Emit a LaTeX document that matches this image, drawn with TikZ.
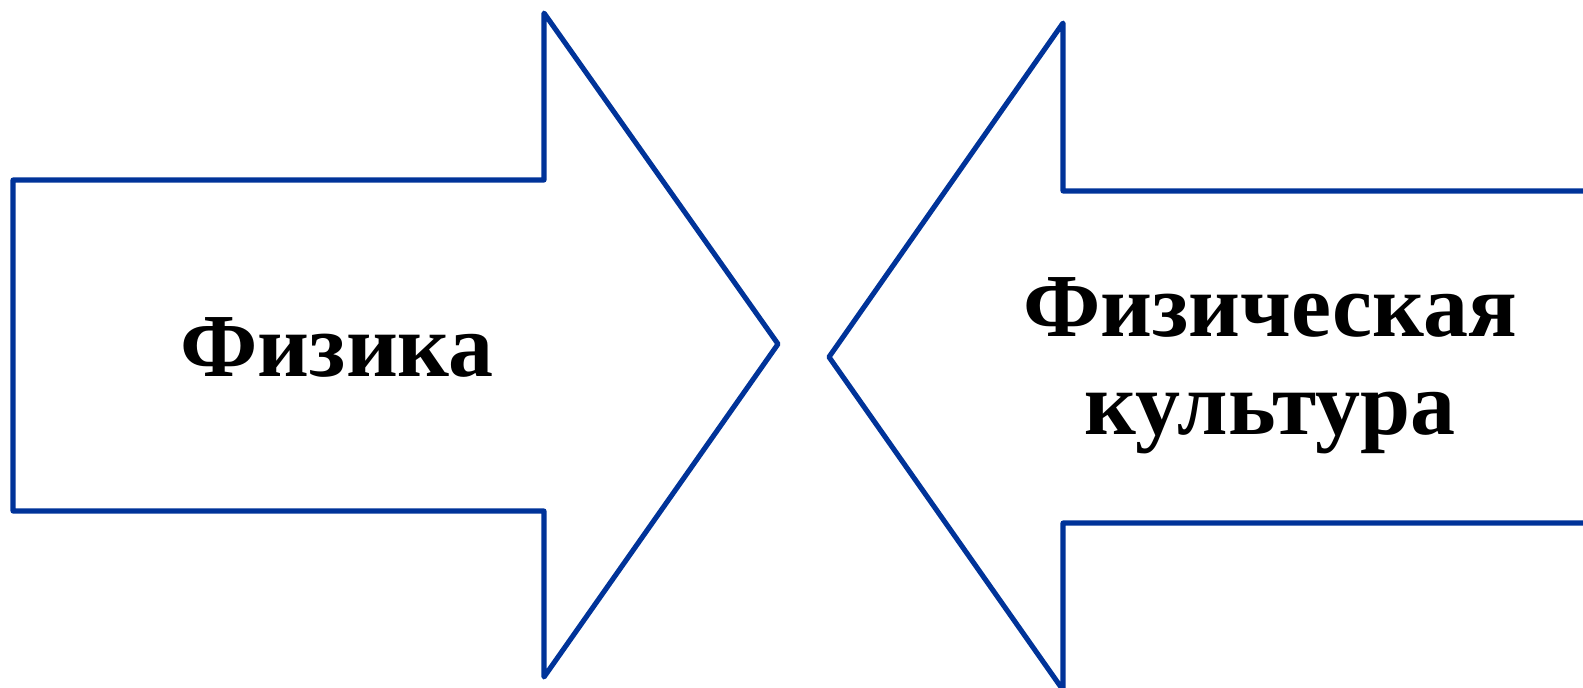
\documentclass[tikz,border=0pt]{standalone}
\usepackage{fontspec}
\setmainfont{Liberation Serif}
\usetikzlibrary{positioning}
\definecolor{arrowblue}{RGB}{0,51,153}

\begin{document}
\begin{tikzpicture}[x=0.01cm,y=-0.01cm,
  outline/.style={draw=arrowblue,line width=1.45pt,line join=round,line cap=round},
  caption/.style={font=\fontsize{25.6}{28}\selectfont\bfseries,align=center,inner sep=0}]
\useasboundingbox (0,0) rectangle (1583,687);
% left arrow
\draw[outline] (13,180) -- (544,180) -- (544,13) -- (778,344) -- (544,677) -- (544,511) -- (13,511) -- cycle;
% right arrow, cut by the right edge
\draw[outline] (1590,191) -- (1063,191) -- (1063,23) -- (829,357) -- (1063,690) -- (1063,523) -- (1590,523);
\node[caption,anchor=base] (phys) at (337,376) {Физика};
\node[caption,anchor=base] (cult1) at (1270,336) {Физическая};
\node[caption,anchor=base] (cult2) at (1270,434) {культура};
\end{tikzpicture}
\end{document}
